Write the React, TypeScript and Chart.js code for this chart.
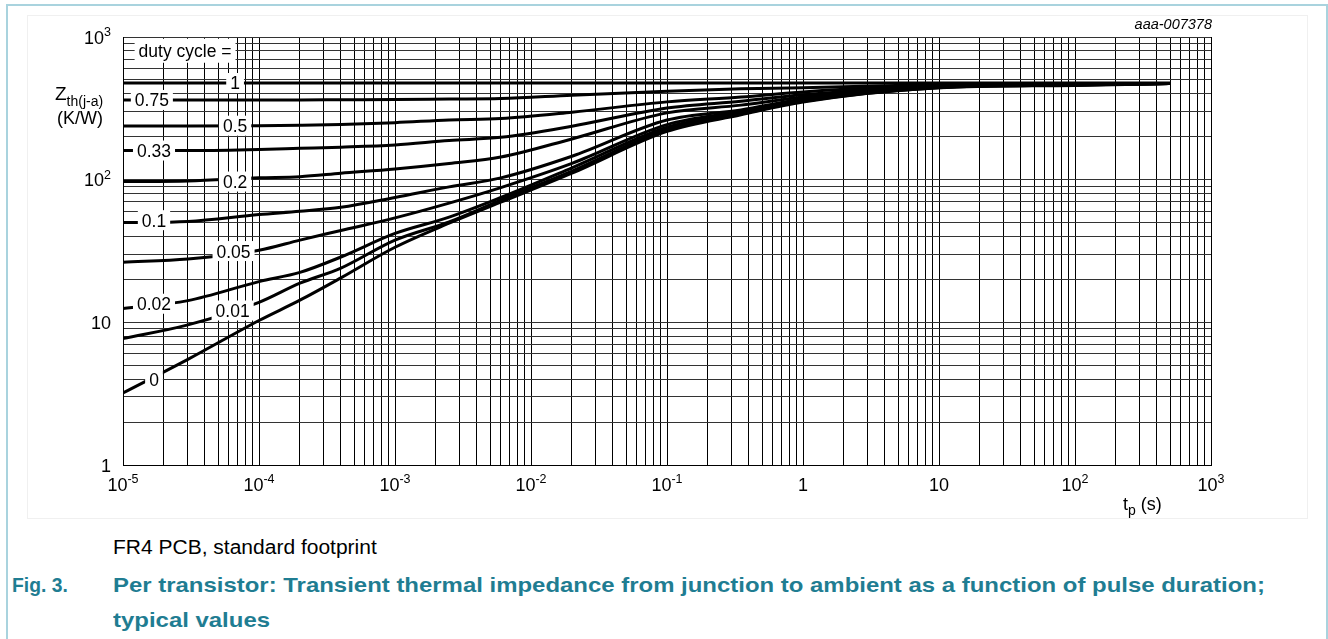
import React, { useEffect, useRef } from 'react';
import { Chart, registerables } from 'chart.js';

Chart.register(...registerables);

const FONT = '"Liberation Sans", Arial, Helvetica, sans-serif';

// pulse duration tp (s)
const tp = [1e-5, 3e-5, 1e-4, 2e-4, 4e-4, 1e-3, 2.5e-3, 6e-3, 2e-2, 0.1, 0.35, 1, 10, 100, 500];

// Zth(j-a) (K/W) per duty cycle
const zth_d1 = [476, 476, 476, 476, 476, 476, 476, 476, 476, 476, 476, 476, 476, 476, 476];
const zth_d075 = [362, 362, 362, 362, 363, 364, 367, 370, 391, 417, 433, 440, 464, 472, 473];
const zth_d05 = [238, 238, 239, 241, 244, 251, 262, 268, 297, 351, 379, 412, 460, 470, 472];
const zth_d033 = [160, 160, 163, 166, 169, 175, 188, 198, 237, 318, 355, 393, 457, 468, 472];
const zth_d02 = [97, 98, 103, 105, 111, 119, 130, 144, 193, 294, 333, 380, 453, 466, 472];
const zth_d01 = [50, 51, 57, 60, 64, 75, 89, 103, 146, 262, 308, 367, 448, 464, 472];
const zth_d005 = [26.4, 27.8, 32, 37.7, 44, 54, 68.5, 88, 130, 243, 300, 363, 446, 462, 472];
const zth_d002 = [12.5, 14.2, 19.3, 22.4, 28.7, 42, 54.6, 75, 121, 233, 296, 360, 444, 461, 472];
const zth_d001 = [7.7, 9.6, 13.8, 18.8, 24, 37.7, 50.6, 72, 115, 225, 289, 354, 441, 460, 472];
const zth_d0 = [3.2, 5.5, 10.3, 14.3, 20.5, 33.6, 49.5, 69.5, 111, 218, 285, 350, 440, 458, 472];

const dutyCycles = ['1', '0.75', '0.5', '0.33', '0.2', '0.1', '0.05', '0.02', '0.01', '0'];
const zthSeries = [zth_d1, zth_d075, zth_d05, zth_d033, zth_d02, zth_d01, zth_d005, zth_d002, zth_d001, zth_d0];

// in-plot labels (anchor in data coordinates)
const labelText = ['duty cycle =', '1', '0.75', '0.5', '0.33', '0.2', '0.1', '0.05', '0.02', '0.01', '0'];
const labelT = [2.86e-5, 6.67e-5, 1.63e-5, 6.67e-5, 1.69e-5, 6.67e-5, 1.69e-5, 6.5e-5, 1.69e-5, 6.4e-5, 1.69e-5];
const labelZ = [801, 476, 362, 239, 160, 97, 52, 31.6, 13.5, 12.1, 4.0];

// axis tick labels
const xTickValues = [1e-5, 1e-4, 1e-3, 1e-2, 1e-1, 1, 10, 100, 1000];
const xTickBase = ['10', '10', '10', '10', '10', '1', '10', '10', '10'];
const xTickExp = ['-5', '-4', '-3', '-2', '-1', '', '', '2', '3'];
const yTickValues = [1, 10, 100, 1000];
const yTickBase = ['1', '10', '10', '10'];
const yTickExp = ['', '', '2', '3'];

function decadeTicks(minExp: number, maxExp: number) {
  const out: { value: number }[] = [];
  for (let e = minExp; e < maxExp; e++) {
    for (let m = 1; m <= 9; m++) out.push({ value: m * Math.pow(10, e) });
  }
  out.push({ value: Math.pow(10, maxExp) });
  return out;
}

const overlayPlugin = {
  id: 'overlay',
  afterDatasetsDraw(chart: any) {
    const { ctx } = chart;
    const x = chart.scales.x;
    const y = chart.scales.y;
    ctx.save();
    ctx.font = `17.5px ${FONT}`;
    ctx.textAlign = 'center';
    ctx.textBaseline = 'alphabetic';
    labelText.forEach((txt, i) => {
      const px = x.getPixelForValue(labelT[i]);
      const py = y.getPixelForValue(labelZ[i]);
      const w = ctx.measureText(txt).width;
      const padX = 4;
      const h = i === 0 ? 24 : 20;
      ctx.fillStyle = '#ffffff';
      ctx.fillRect(px - w / 2 - padX, py - h / 2, w + 2 * padX, h);
      ctx.fillStyle = '#000000';
      ctx.fillText(txt, px, py + 6.5);
    });
    ctx.restore();
  },
  afterDraw(chart: any) {
    const { ctx } = chart;
    const x = chart.scales.x;
    const y = chart.scales.y;
    const big = `18px ${FONT}`;
    const small = `12.5px ${FONT}`;
    const sub = `14px ${FONT}`;
    ctx.save();
    ctx.fillStyle = '#000';
    ctx.textBaseline = 'alphabetic';
    ctx.textAlign = 'left';
    // x tick labels
    const xBase = y.bottom + 26;
    xTickValues.forEach((v, i) => {
      ctx.font = big;
      const wb = ctx.measureText(xTickBase[i]).width;
      ctx.font = small;
      const we = xTickExp[i] ? ctx.measureText(xTickExp[i]).width : 0;
      const px = x.getPixelForValue(v);
      const start = px - (wb + we) / 2;
      ctx.font = big;
      ctx.fillText(xTickBase[i], start, xBase);
      if (xTickExp[i]) {
        ctx.font = small;
        ctx.fillText(xTickExp[i], start + wb, xBase - 8);
      }
    });
    // y tick labels
    const rightEdge = x.left - 12;
    yTickValues.forEach((v, i) => {
      ctx.font = big;
      const wb = ctx.measureText(yTickBase[i]).width;
      ctx.font = small;
      const we = yTickExp[i] ? ctx.measureText(yTickExp[i]).width : 0;
      const py = y.getPixelForValue(v);
      const start = rightEdge - wb - we;
      ctx.font = big;
      ctx.fillText(yTickBase[i], start, py + 6.5);
      if (yTickExp[i]) {
        ctx.font = small;
        ctx.fillText(yTickExp[i], start + wb, py - 1);
      }
    });
    // y axis title
    ctx.font = `19px ${FONT}`;
    ctx.fillText('Z', 55, 100);
    const wz = ctx.measureText('Z').width;
    ctx.font = sub;
    ctx.fillText('th(j-a)', 55 + wz, 106);
    ctx.font = big;
    ctx.textAlign = 'center';
    ctx.fillText('(K/W)', 80, 124);
    // x axis title
    ctx.textAlign = 'left';
    ctx.font = big;
    let cx = 1123;
    ctx.fillText('t', cx, 510);
    cx += ctx.measureText('t').width;
    ctx.font = sub;
    ctx.fillText('p', cx, 515);
    cx += ctx.measureText('p').width;
    ctx.font = big;
    ctx.fillText(' (s)', cx, 510);
    ctx.restore();
  },
};

export default function App() {
  const canvasRef = useRef<HTMLCanvasElement | null>(null);

  useEffect(() => {
    const canvas = canvasRef.current;
    if (!canvas) return;
    const datasets = zthSeries.map((vals, i) => ({
      label: dutyCycles[i],
      data: tp.map((t, k) => ({ x: t, y: vals[k] })),
      borderColor: '#000000',
      backgroundColor: '#000000',
      borderWidth: 3,
      pointRadius: 0,
      fill: false,
      cubicInterpolationMode: 'monotone' as const,
    }));
    const chart = new Chart(canvas, {
      type: 'line',
      data: { datasets },
      options: {
        animation: false,
        responsive: false,
        maintainAspectRatio: false,
        devicePixelRatio: 1,
        layout: { padding: { left: 123, right: 117, top: 37, bottom: 55 } },
        plugins: { legend: { display: false }, tooltip: { enabled: false } },
        scales: {
          x: {
            type: 'logarithmic',
            min: 1e-5,
            max: 1e3,
            ticks: { display: false },
            grid: { color: '#000', lineWidth: 1, drawTicks: false },
            border: { display: true, color: '#000', width: 1 },
            afterBuildTicks: (scale: any) => {
              scale.ticks = decadeTicks(-5, 3);
            },
          },
          y: {
            type: 'logarithmic',
            min: 1,
            max: 1000,
            ticks: { display: false },
            grid: { color: '#333', lineWidth: 1, drawTicks: false },
            border: { display: true, color: '#000', width: 1 },
            afterBuildTicks: (scale: any) => {
              scale.ticks = decadeTicks(0, 3);
            },
          },
        },
      },
      plugins: [overlayPlugin],
    });
    return () => chart.destroy();
  }, []);

  const teal = '#1f7d92';
  return (
    <div style={{ position: 'absolute', left: 0, top: 0, width: 1328, height: 639, overflow: 'hidden', background: '#fff', fontFamily: FONT }}>
      <div style={{ position: 'absolute', left: 6, top: 4, width: 1318, height: 700, borderLeft: '2px solid #a9d3de', borderTop: '2px solid #a9d3de', borderRight: '2px solid #a9d3de' }} />
      <div style={{ position: 'absolute', left: 27, top: 15, width: 1279, height: 502, border: '1px solid #f0f0f0' }} />
      <canvas ref={canvasRef} width={1328} height={520} style={{ position: 'absolute', left: 0, top: 0, width: 1328, height: 520 }} />
      <div style={{ position: 'absolute', left: 0, top: 16, width: 1212, textAlign: 'right', fontStyle: 'italic', fontSize: 14.5, lineHeight: '16px', color: '#000' }}>aaa-007378</div>
      <div style={{ position: 'absolute', left: 113, top: 537, fontSize: 20, lineHeight: '20px', color: '#000', whiteSpace: 'nowrap', transformOrigin: 'left top', transform: 'scaleX(1.05)' }}>FR4 PCB, standard footprint</div>
      <div style={{ position: 'absolute', left: 12, top: 574, fontSize: 21, lineHeight: '21px', fontWeight: 'bold', color: teal, whiteSpace: 'nowrap', transformOrigin: 'left top', transform: 'scaleX(0.92)' }}>Fig. 3.</div>
      <div style={{ position: 'absolute', left: 113, top: 574, fontSize: 21, fontWeight: 'bold', color: teal, whiteSpace: 'nowrap', transformOrigin: 'left top', transform: 'scaleX(1.14)' }}>
        <div style={{ lineHeight: '21px' }}>Per transistor: Transient thermal impedance from junction to ambient as a function of pulse duration;</div>
        <div style={{ lineHeight: '21px', marginTop: 14 }}>typical values</div>
      </div>
    </div>
  );
}
